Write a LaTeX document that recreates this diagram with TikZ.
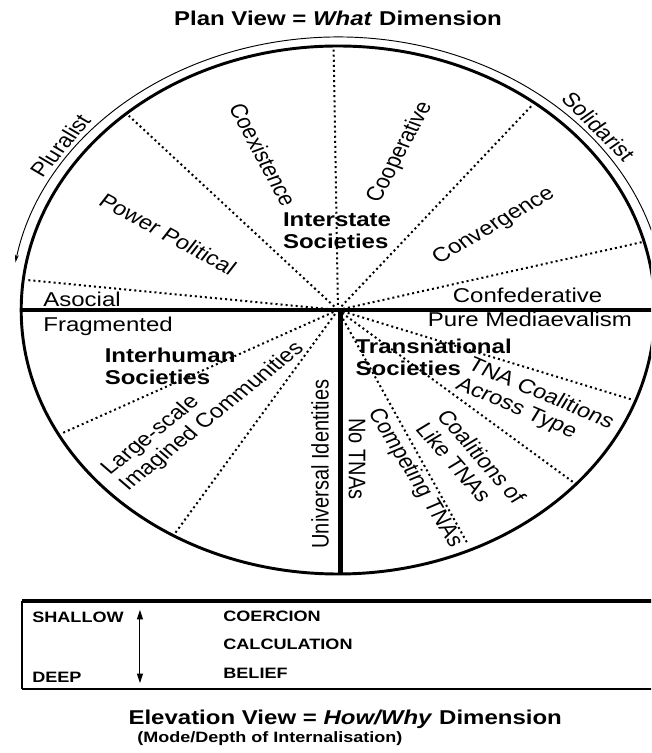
\documentclass[tikz,border=0pt]{standalone}
\usepackage{fontspec}
\setmainfont{Liberation Sans}
\usetikzlibrary{arrows.meta}
\begin{document}
\begin{tikzpicture}[x=0.75pt,y=0.75pt,
  lab/.style={font=\fontsize{15}{16.5}\selectfont, inner sep=0pt},
  blab/.style={font=\fontsize{15}{16.5}\selectfont\bfseries, inner sep=0pt},
  sep/.style={line width=1.5pt, dash pattern=on 1.5pt off 2.3pt},
  boxt/.style={font=\fontsize{11.3}{13}\selectfont\bfseries, inner sep=0pt, anchor=base west},
  ttl/.style={font=\fontsize{15}{18}\selectfont\bfseries, inner sep=0pt, anchor=base},
  tip/.tip={Triangle[length=7pt,width=4.5pt]}]
\useasboundingbox (0,0) rectangle (651,753);
\fill[white] (0,0) rectangle (651,753);
\clip (0,0) rectangle (651,753);
\begin{scope}[shift={(338,443)}, xscale=1.2, transform shape]
  \coordinate (O) at (0,0);
  % sector separators
  \coordinate (d1) at (90.8:261);
  \coordinate (d2) at (131.9:261);
  \coordinate (d3) at (173.4:261);
  \coordinate (d4) at (51.7:261);
  \coordinate (d5) at (15:262);
  \coordinate (d6) at (208.2:261);
  \coordinate (d7) at (238.7:261);
  \coordinate (d8) at (-20.1:261);
  \coordinate (d9) at (-41.3:261);
  \coordinate (d10) at (-65.2:258);
  \foreach \i in {1,...,10} \draw[sep] (O) -- (d\i);
  % bold axes
  \coordinate (L) at (180:264);
  \coordinate (R) at (280,0);
  \coordinate (Ob) at (2,0);
  \coordinate (B) at (2,-264);
  \draw[line width=3.2pt] (L) -- (R);
  \draw[line width=3.2pt] (Ob) -- (B);
  % circle and outer arc
  \draw[line width=2.2pt] (O) circle[radius=264];
  \draw[line width=0.7pt, -{Stealth[length=6pt,width=3pt]}] (12:273) arc[start angle=12, end angle=170, radius=273];
  \node[lab, anchor=base, rotate=54.6] (plur) at (144.6:277) {Pluralist};
  \node[lab, anchor=base, rotate=-49.8] (soli) at (40.2:277) {Solidarist};
  % upper labels
  \node[lab, rotate=-66] (coex) at (-62.5,155) {Coexistence};
  \node[lab, rotate=66] (coop) at (51.7,158) {Cooperative};
  \node[lab, rotate=-33] (power) at (-141.7,76) {Power Political};
  \node[lab, rotate=35] (conv) at (130,84) {Convergence};
  \node[blab, align=left] (inter) at (-0.8,79.3) {Interstate\\Societies};
  \node[lab, anchor=base west] (asoc) at (-245.8,3) {Asocial};
  \node[lab, anchor=base] (conf) at (158,7) {Confederative};
  % lower labels
  \node[lab, anchor=base west] (frag) at (-245.8,-22) {Fragmented};
  \node[lab, anchor=base] (pure) at (160,-17) {Pure Mediaevalism};
  \node[blab, align=left] (human) at (-139.9,-56.75) {Interhuman\\Societies};
  \node[blab, align=left] (trans) at (79.7,-47.75) {Transnational\\Societies};
  \node[lab, align=left, rotate=44] (large) at (-112.5,-99) {Large-scale\\Imagined Communities};
  \node[lab, rotate=90] (univ) at (-15,-154) {Universal Identities};
  \node[lab, rotate=-90] (nota) at (15.8,-149) {No TNAs};
  \node[lab, rotate=-63] (comp) at (64,-168) {Competing TNAs};
  \node[lab, align=left, rotate=-54] (like) at (110.8,-153) {Coalitions of\\Like TNAs};
  \node[lab, align=left, rotate=-27] (across) at (164,-94) {TNA Coalitions\\Across Type};
  % titles
  \node[ttl] (plan) at (0,284) {Plan View = \textit{What} Dimension};
  % elevation box
  \coordinate (bTL) at (-263.3,-291);
  \coordinate (bTR) at (280,-291);
  \coordinate (bBL) at (-263.3,-379);
  \coordinate (bBR) at (280,-379);
  \draw[line width=2.4pt] (bTL) -- (bTR);
  \draw[line width=2pt] (bBL) -- (bBR);
  \draw[line width=1.5pt] (bTL) -- (bBL);
  \coordinate (aT) at (-165,-300);
  \coordinate (aB) at (-165,-373);
  \draw[line width=0.8pt, {tip}-{tip}] (aT) -- (aB);
  \node[boxt] (shallow) at (-255,-313) {SHALLOW};
  \node[boxt] (deep) at (-255,-373) {DEEP};
  \node[boxt] (coer) at (-95.8,-312) {COERCION};
  \node[boxt] (calc) at (-95.8,-340) {CALCULATION};
  \node[boxt] (bel) at (-95.8,-369) {BELIEF};
  \node[ttl] (elev) at (6,-415) {Elevation View = \textit{How/Why} Dimension};
  \node[font=\fontsize{11.25}{13}\selectfont\bfseries, inner sep=0pt, anchor=base] (mode) at (-56.7,-433) {(Mode/Depth of Internalisation)};
\end{scope}
\end{tikzpicture}
\end{document}
